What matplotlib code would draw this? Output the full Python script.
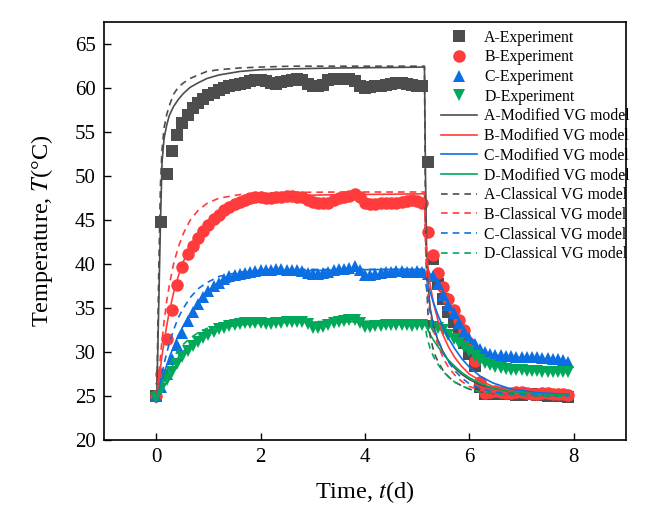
import numpy as np
import matplotlib.pyplot as plt

plt.rcParams['font.family'] = ['Liberation Serif', 'DejaVu Serif']
plt.rcParams['mathtext.fontset'] = 'stix'

# experiment sampling times (d)
t_exp = np.round(np.arange(0, 8.0, 0.1), 1)

A_exp = [25.0, 44.8, 50.2, 52.9, 54.7, 56.0, 56.9, 57.7, 58.3, 58.8,
         59.2, 59.5, 59.8, 60.0, 60.2, 60.4, 60.5, 60.6, 60.8, 60.9,
         60.9, 60.8, 60.6, 60.5, 60.7, 60.8, 60.9, 61.0, 60.9, 60.5,
         60.3, 60.2, 60.4, 60.9, 61.0, 61.0, 61.1, 61.0, 60.8, 60.3,
         60.0, 60.1, 60.2, 60.3, 60.4, 60.5, 60.6, 60.6, 60.5, 60.4,
         60.3, 60.3, 51.6, 40.6, 37.8, 36.0, 34.6, 33.4, 32.2, 31.0,
         29.8, 28.4, 26.0, 25.2, 25.2, 25.3, 25.3, 25.2, 25.2, 25.1,
         25.1, 25.2, 25.2, 25.1, 25.1, 25.0, 25.0, 25.0, 25.0, 24.9]
B_exp = [25.0, 27.5, 31.5, 34.8, 37.6, 39.7, 41.1, 42.1, 43.0, 43.8,
         44.5, 45.1, 45.6, 46.1, 46.5, 46.8, 47.1, 47.3, 47.5, 47.6,
         47.6, 47.5, 47.5, 47.6, 47.6, 47.7, 47.7, 47.6, 47.6, 47.3,
         47.1, 47.0, 46.9, 47.0, 47.3, 47.5, 47.6, 47.8, 48.0, 47.6,
         46.9, 46.8, 46.8, 46.9, 46.9, 46.9, 47.0, 47.1, 47.2, 47.3,
         47.2, 47.0, 43.7, 41.0, 39.0, 37.4, 36.0, 34.8, 33.6, 32.5,
         31.0, 29.0, 26.6, 25.4, 25.5, 25.6, 25.5, 25.4, 25.4, 25.5,
         25.5, 25.4, 25.3, 25.3, 25.4, 25.4, 25.3, 25.2, 25.2, 25.1]
C_exp = [25.0, 26.0, 27.5, 29.2, 30.8, 32.2, 33.5, 34.6, 35.5, 36.3,
         37.0, 37.5, 37.9, 38.3, 38.6, 38.8, 38.9, 39.0, 39.1, 39.2,
         39.3, 39.3, 39.3, 39.4, 39.4, 39.3, 39.3, 39.3, 39.2, 39.0,
         38.9, 38.9, 39.0, 39.1, 39.3, 39.4, 39.5, 39.6, 39.8, 39.3,
         38.8, 38.8, 38.9, 39.0, 39.1, 39.1, 39.2, 39.2, 39.1, 39.1,
         39.2, 39.1, 38.9, 38.6, 37.8, 36.5, 35.4, 34.4, 33.3, 32.3,
         31.6, 30.9, 30.4, 30.0, 29.8, 29.7, 29.7, 29.6, 29.6, 29.5,
         29.5, 29.5, 29.4, 29.4, 29.3, 29.3, 29.2, 29.2, 29.1, 28.9]
D_exp = [24.8, 25.8, 26.8, 27.8, 28.6, 29.4, 30.1, 30.7, 31.2, 31.6,
         32.0, 32.3, 32.6, 32.8, 33.0, 33.1, 33.2, 33.3, 33.3, 33.3,
         33.3, 33.2, 33.2, 33.3, 33.3, 33.4, 33.4, 33.4, 33.4, 33.2,
         32.8, 32.8, 32.9, 33.1, 33.3, 33.4, 33.5, 33.6, 33.7, 33.3,
         32.9, 32.9, 33.0, 33.0, 33.1, 33.1, 33.1, 33.1, 33.1, 33.0,
         33.1, 33.1, 33.0, 32.9, 32.8, 32.5, 32.0, 31.5, 31.0, 30.6,
         30.1, 29.6, 29.1, 28.8, 28.5, 28.3, 28.2, 28.1, 28.0, 28.0,
         28.0, 27.9, 27.9, 27.9, 27.8, 27.8, 27.8, 27.7, 27.7, 27.7]

# model curves
t_mod = [0.01, 0.05, 0.08, 0.11, 0.15, 0.2, 0.25, 0.33, 0.42, 0.52,
         0.65, 0.8, 0.97, 1.2, 1.6, 2.0, 2.6, 3.5, 4.5, 5.14,
         5.16, 5.18, 5.21, 5.25, 5.32, 5.4, 5.5, 5.6, 5.72, 5.85,
         6.0, 6.2, 6.45, 6.8, 7.3, 7.9]

A_mod = [25.0, 36.0, 44.5, 51.5, 54.3, 55.8, 56.9, 57.9, 58.7, 59.4,
         60.1, 60.6, 61.1, 61.5, 61.9, 62.1, 62.2, 62.3, 62.35, 62.4,
         50.0, 42.0, 37.5, 35.0, 32.8, 31.3, 30.0, 29.0, 28.2, 27.5,
         26.9, 26.3, 25.9, 25.5, 25.3, 25.1]
B_mod = [25.0, 26.8, 28.2, 29.6, 31.2, 33.0, 34.6, 36.7, 38.6, 40.3,
         42.0, 43.5, 44.8, 45.9, 47.0, 47.5, 47.8, 47.9, 47.95, 48.0,
         44.0, 41.5, 39.5, 37.6, 35.4, 33.6, 31.9, 30.6, 29.4, 28.4,
         27.5, 26.8, 26.1, 25.6, 25.3, 25.1]
C_mod = [25.0, 25.6, 26.2, 26.8, 27.6, 28.5, 29.4, 30.6, 31.9, 33.0,
         34.3, 35.5, 36.5, 37.5, 38.4, 38.9, 39.2, 39.35, 39.4, 39.4,
         38.8, 38.3, 37.6, 36.8, 35.5, 34.2, 32.8, 31.6, 30.4, 29.3,
         28.3, 27.3, 26.5, 25.8, 25.4, 25.2]
D_mod = [25.0, 25.4, 25.8, 26.2, 26.7, 27.3, 27.8, 28.6, 29.4, 30.1,
         30.9, 31.6, 32.2, 32.7, 33.1, 33.3, 33.4, 33.45, 33.5, 33.5,
         33.2, 32.9, 32.5, 32.0, 31.3, 30.6, 29.8, 29.1, 28.4, 27.7,
         27.1, 26.5, 25.9, 25.5, 25.25, 25.1]

A_cls = [25.0, 40.0, 49.0, 53.0, 55.5, 57.0, 58.0, 59.3, 60.1, 60.6,
         61.1, 61.5, 61.9, 62.1, 62.3, 62.4, 62.5, 62.5, 62.5, 62.5,
         45.0, 38.0, 34.0, 31.8, 30.0, 28.9, 27.9, 27.2, 26.6, 26.2,
         25.8, 25.5, 25.3, 25.15, 25.05, 25.0]
B_cls = [25.0, 27.5, 29.5, 31.3, 33.5, 35.8, 37.6, 40.0, 41.9, 43.5,
         45.0, 46.1, 46.9, 47.5, 47.9, 48.05, 48.15, 48.2, 48.2, 48.2,
         42.0, 39.0, 36.5, 34.5, 32.3, 30.8, 29.3, 28.3, 27.4, 26.7,
         26.1, 25.7, 25.4, 25.2, 25.05, 25.0]
C_cls = [25.0, 26.0, 26.8, 27.6, 28.7, 29.9, 31.0, 32.5, 33.9, 35.0,
         36.2, 37.2, 37.9, 38.6, 39.1, 39.3, 39.4, 39.4, 39.4, 39.4,
         38.2, 37.2, 35.8, 34.5, 32.8, 31.4, 30.0, 28.9, 27.9, 27.1,
         26.4, 25.9, 25.5, 25.25, 25.1, 25.0]
D_cls = [25.0, 25.6, 26.1, 26.6, 27.2, 27.9, 28.5, 29.4, 30.2, 30.9,
         31.6, 32.2, 32.7, 33.0, 33.3, 33.4, 33.45, 33.5, 33.5, 33.5,
         32.7, 32.0, 31.2, 30.4, 29.4, 28.6, 27.8, 27.2, 26.6, 26.2,
         25.8, 25.5, 25.3, 25.1, 25.05, 25.0]

names = ["A", "B", "C", "D"]
colors = ["#4d4d4d", "#ff3b3b", "#0b6fe3", "#00a85a"]
markers = ["s", "o", "^", "v"]

fig = plt.figure(figsize=(6.63, 5.16), dpi=100)
ax = fig.add_axes([0.157, 0.147, 0.787, 0.81])

for name, y, c, m in zip(names, [A_exp, B_exp, C_exp, D_exp], colors, markers):
    ax.plot(t_exp, y, linestyle="none", marker=m, markersize=9, color=c,
            markeredgewidth=0, label=f"{name}-Experiment")
for name, y, c in zip(names, [A_mod, B_mod, C_mod, D_mod], colors):
    ax.plot(t_mod, y, "-", color=c, lw=1.2, label=f"{name}-Modified VG model")
for name, y, c in zip(names, [A_cls, B_cls, C_cls, D_cls], colors):
    ax.plot(t_mod, y, "--", color=c, lw=1.2, dashes=(4, 3),
            label=f"{name}-Classical VG model")

ax.set_xlim(-1, 9)
ax.set_ylim(20, 67.5)
ax.set_xticks([0, 2, 4, 6, 8])
ax.set_yticks(range(20, 66, 5))
ax.tick_params(direction="in", length=5, width=1, labelsize=15, pad=6)
for s in ax.spines.values():
    s.set_linewidth(1.2)
ax.set_xlabel("Time, $t$(d)", fontsize=17.5, labelpad=8)
ax.set_ylabel("Temperature, $T$(°C)", fontsize=17.5, labelpad=14)

ax.legend(loc="upper left", bbox_to_anchor=(0.646, 0.982), frameon=False,
          fontsize=11.3, labelspacing=0.235, handlelength=2.3,
          handletextpad=0.45, borderpad=0, borderaxespad=0)

fig.savefig("out.png", dpi=100)
